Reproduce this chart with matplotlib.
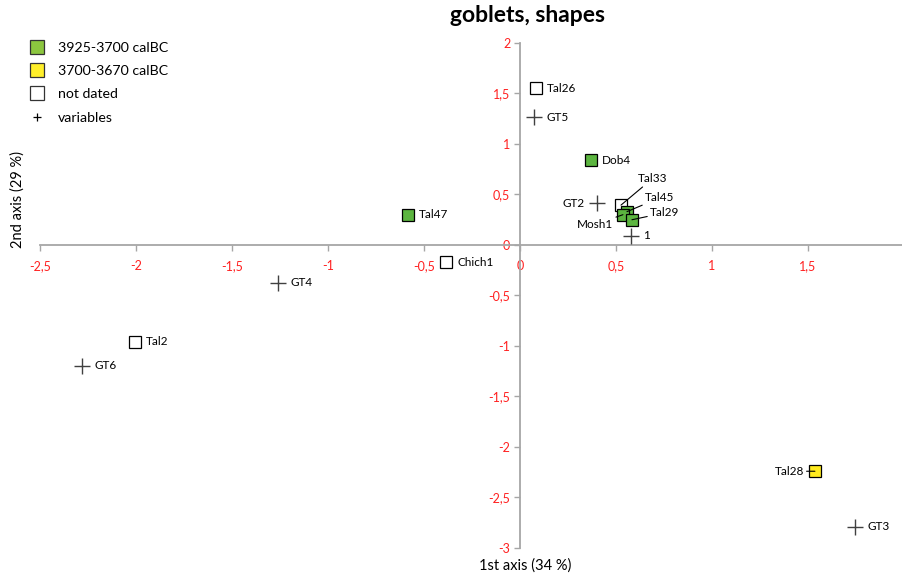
import matplotlib
matplotlib.use("Agg")
import matplotlib.pyplot as plt
from matplotlib.lines import Line2D
from matplotlib.ticker import FuncFormatter

plt.rcParams['font.family'] = ['Lato', 'DejaVu Sans']

# Objects (goblets) on the first two factorial axes
obj_names = ["Tal26", "Dob4", "Tal33", "Tal45", "Mosh1", "Tal29", "Tal47",
             "Chich1", "Tal2", "Tal28"]
obj_x = [0.083, 0.37, 0.526, 0.557, 0.536, 0.583, -0.583, -0.385, -2.005, 1.536]
obj_y = [1.55, 0.84, 0.395, 0.33, 0.30, 0.25, 0.30, -0.17, -0.96, -2.24]
obj_group = ["nd", "early", "nd", "early", "early", "early", "early",
             "nd", "nd", "late"]

# Variables
var_names = ["GT5", "GT2", "1", "GT4", "GT6", "GT3"]
var_x = [0.073, 0.40, 0.578, -1.26, -2.28, 1.745]
var_y = [1.265, 0.415, 0.09, -0.375, -1.195, -2.79]

group_labels = {"early": "3925-3700 calBC", "late": "3700-3670 calBC",
                "nd": "not dated"}
group_colors = {"early": "#5cb540", "late": "#ffeb1f", "nd": "white"}
legend_colors = {"early": "#8cc63f", "late": "#ffef2a", "nd": "white"}

x_ticks = [-2.5, -2, -1.5, -1, -0.5, 0, 0.5, 1, 1.5]
y_ticks = [-3, -2.5, -2, -1.5, -1, -0.5, 0, 0.5, 1, 1.5, 2]

W, H = 902, 579
fig = plt.figure(figsize=(W / 100, H / 100), dpi=100)
ax = fig.add_axes([40 / W, (H - 548) / H, 864 / W, 505 / H])
ax.set_xlim(-2.5, 2.0)
ax.set_ylim(-3, 2)

axis_grey = "#a6a6a6"
for s in ("top", "right"):
    ax.spines[s].set_visible(False)
ax.spines["left"].set_position(("data", 0))
ax.spines["bottom"].set_position(("data", 0))
for s in ("left", "bottom"):
    ax.spines[s].set_color(axis_grey)
    ax.spines[s].set_linewidth(1.3)

comma = FuncFormatter(lambda v, p: ("%g" % v).replace(".", ","))
ax.xaxis.set_major_formatter(comma)
ax.yaxis.set_major_formatter(comma)
ax.set_xticks(x_ticks)
ax.set_yticks(y_ticks)
ax.tick_params(axis="x", direction="out", length=4, width=1, color=axis_grey,
               labelcolor="#ff2020", labelsize=9, pad=7)
ax.tick_params(axis="y", direction="out", length=4, width=1, color=axis_grey,
               labelcolor="#ff2020", labelsize=9, pad=3)

# Variables as plus signs
ax.plot(var_x, var_y, linestyle="none", marker="+", markersize=12,
        markeredgewidth=1.0, color="#404040", zorder=3)

# Objects as squares
for nx, ny, g in zip(obj_x, obj_y, obj_group):
    ax.plot(nx, ny, linestyle="none", marker="s", markersize=8,
            markerfacecolor=group_colors[g], markeredgecolor="black",
            markeredgewidth=0.9, zorder=4)

lab_fs = 8.5
offset_pts = 8
plain = {"Tal26", "Dob4", "Tal47", "Chich1", "Tal2"}
for n, px, py in zip(obj_names, obj_x, obj_y):
    if n in plain:
        ax.annotate(n, (px, py), xytext=(offset_pts, 0), textcoords="offset points",
                    va="center", ha="left", fontsize=lab_fs, zorder=5)

for n, px, py in zip(var_names, var_x, var_y):
    if n == "GT2":
        ax.annotate(n, (px, py), xytext=(-9, 0), textcoords="offset points",
                    va="center", ha="right", fontsize=lab_fs, zorder=5)
    else:
        ax.annotate(n, (px, py), xytext=(9, 0), textcoords="offset points",
                    va="center", ha="left", fontsize=lab_fs, zorder=5)

# Labels with leader lines for the crowded cluster
leader = dict(arrowstyle="-", color="black", lw=0.8, shrinkA=0, shrinkB=0)
idx = {n: i for i, n in enumerate(obj_names)}
led = {"Tal33": (12, 19, "left"), "Tal45": (13, 10, "left"),
       "Tal29": (13, 5, "left"), "Mosh1": (-7, -7, "right"),
       "Tal28": (-8, 0, "right")}
for n, (dx, dy, ha) in led.items():
    i = idx[n]
    ax.annotate(n, (obj_x[i], obj_y[i]), xytext=(dx, dy), textcoords="offset points",
                va="center", ha=ha, fontsize=lab_fs, arrowprops=leader, zorder=6)

# Legend
handles = [Line2D([], [], linestyle="none", marker="s", markersize=10,
                  markerfacecolor=legend_colors[k], markeredgecolor="#333333",
                  markeredgewidth=0.9, label=group_labels[k])
           for k in ("early", "late", "nd")]
handles.append(Line2D([], [], linestyle="none", marker="+", markersize=6,
                      markeredgewidth=0.9, color="black", label="variables"))
fig.legend(handles=handles, loc="upper left", bbox_to_anchor=(24 / W, 1 - 36 / H),
           frameon=False, fontsize=10.2, handlelength=1.0, handletextpad=1.0,
           labelspacing=0.8, borderaxespad=0)

fig.text(527 / W, 1 - 16 / H, "goblets, shapes", ha="center", va="center",
         fontsize=16.5, fontweight="bold")
fig.text(525 / W, 1 - 566 / H, "1st axis (34 %)", ha="center", va="center",
         fontsize=10.5)
fig.text(18 / W, 1 - 200 / H, "2nd axis (29 %)", ha="center", va="center",
         rotation=90, fontsize=10.5)

fig.savefig("out.png", dpi=100)
